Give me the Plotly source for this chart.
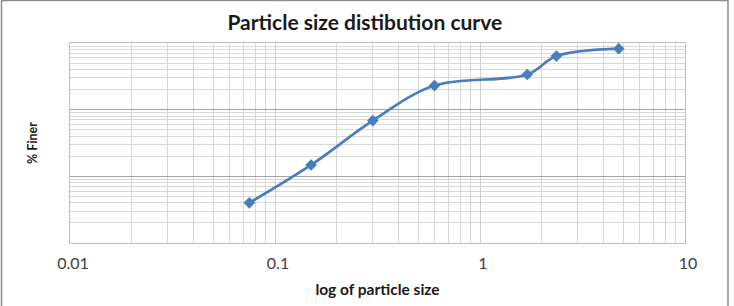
import plotly.graph_objects as go

# Data
particle_size = [0.075, 0.15, 0.30, 0.60, 1.70, 2.36, 4.75]
percent_finer = [0.40, 1.48, 6.85, 23.0, 33.7, 63.7, 82.1]
x_tick_vals = [0.01, 0.1, 1, 10]
x_tick_text = ["0.01", "0.1", "1", "10"]

BLUE = "#4A7EBB"
FONT = "Lato, 'Open Sans', 'Liberation Sans', sans-serif"

fig = go.Figure()
fig.add_trace(go.Scatter(
    x=particle_size, y=percent_finer,
    mode="lines+markers",
    line=dict(color=BLUE, width=2.75, shape="spline", smoothing=1.0),
    marker=dict(symbol="diamond", size=9, color=BLUE),
    showlegend=False,
))

fig.update_layout(
    width=734, height=306,
    margin=dict(l=70, r=49, t=43, b=63),
    paper_bgcolor="white", plot_bgcolor="white",
    font=dict(family=FONT, color="#404040"),
    title=dict(text="<b>Particle size distibution curve</b>", x=0.497, xanchor="center",
               y=0.925, yanchor="middle", font=dict(size=21, color="#1a1a1a", family=FONT)),
    xaxis=dict(
        type="log", range=[-2, 1],
        tickvals=x_tick_vals, ticktext=x_tick_text,
        tickfont=dict(size=16, color="#404040"),
        ticklabelshift=3, ticklabelstandoff=6,
        showgrid=True, gridcolor="#CFCFCF", gridwidth=1,
        minor=dict(dtick="D1", showgrid=True, gridcolor="#D6D6D6", gridwidth=1, ticks=""),
        showline=True, linecolor="#BFBFBF", mirror=True,
        ticks="", zeroline=False,
        title=dict(text="<b>log of particle size</b>", font=dict(size=15.5, color="#1a1a1a"), standoff=12),
    ),
    yaxis=dict(
        type="log", range=[-1, 2],
        dtick=1, showticklabels=False,
        showgrid=True, gridcolor="#A6A6A6", gridwidth=1,
        minor=dict(dtick="D1", showgrid=True, gridcolor="#D9D9D9", gridwidth=1, ticks=""),
        showline=True, linecolor="#BFBFBF", mirror=True,
        ticks="", zeroline=False,
        title=dict(text="<b>% Finer</b>", font=dict(size=12.5, color="#1a1a1a"), standoff=28),
    ),
)

# chart-area border like the Excel chart frame
fig.add_shape(type="rect", xref="paper", yref="paper",
              x0=(1.5 - 70) / 615, x1=(728 - 70) / 615,
              y0=(243 - 310) / 200, y1=(243 - 0.5) / 200,
              line=dict(color="#8C8C8C", width=1.5), fillcolor="rgba(0,0,0,0)", layer="below")

fig.write_html("out.html")
